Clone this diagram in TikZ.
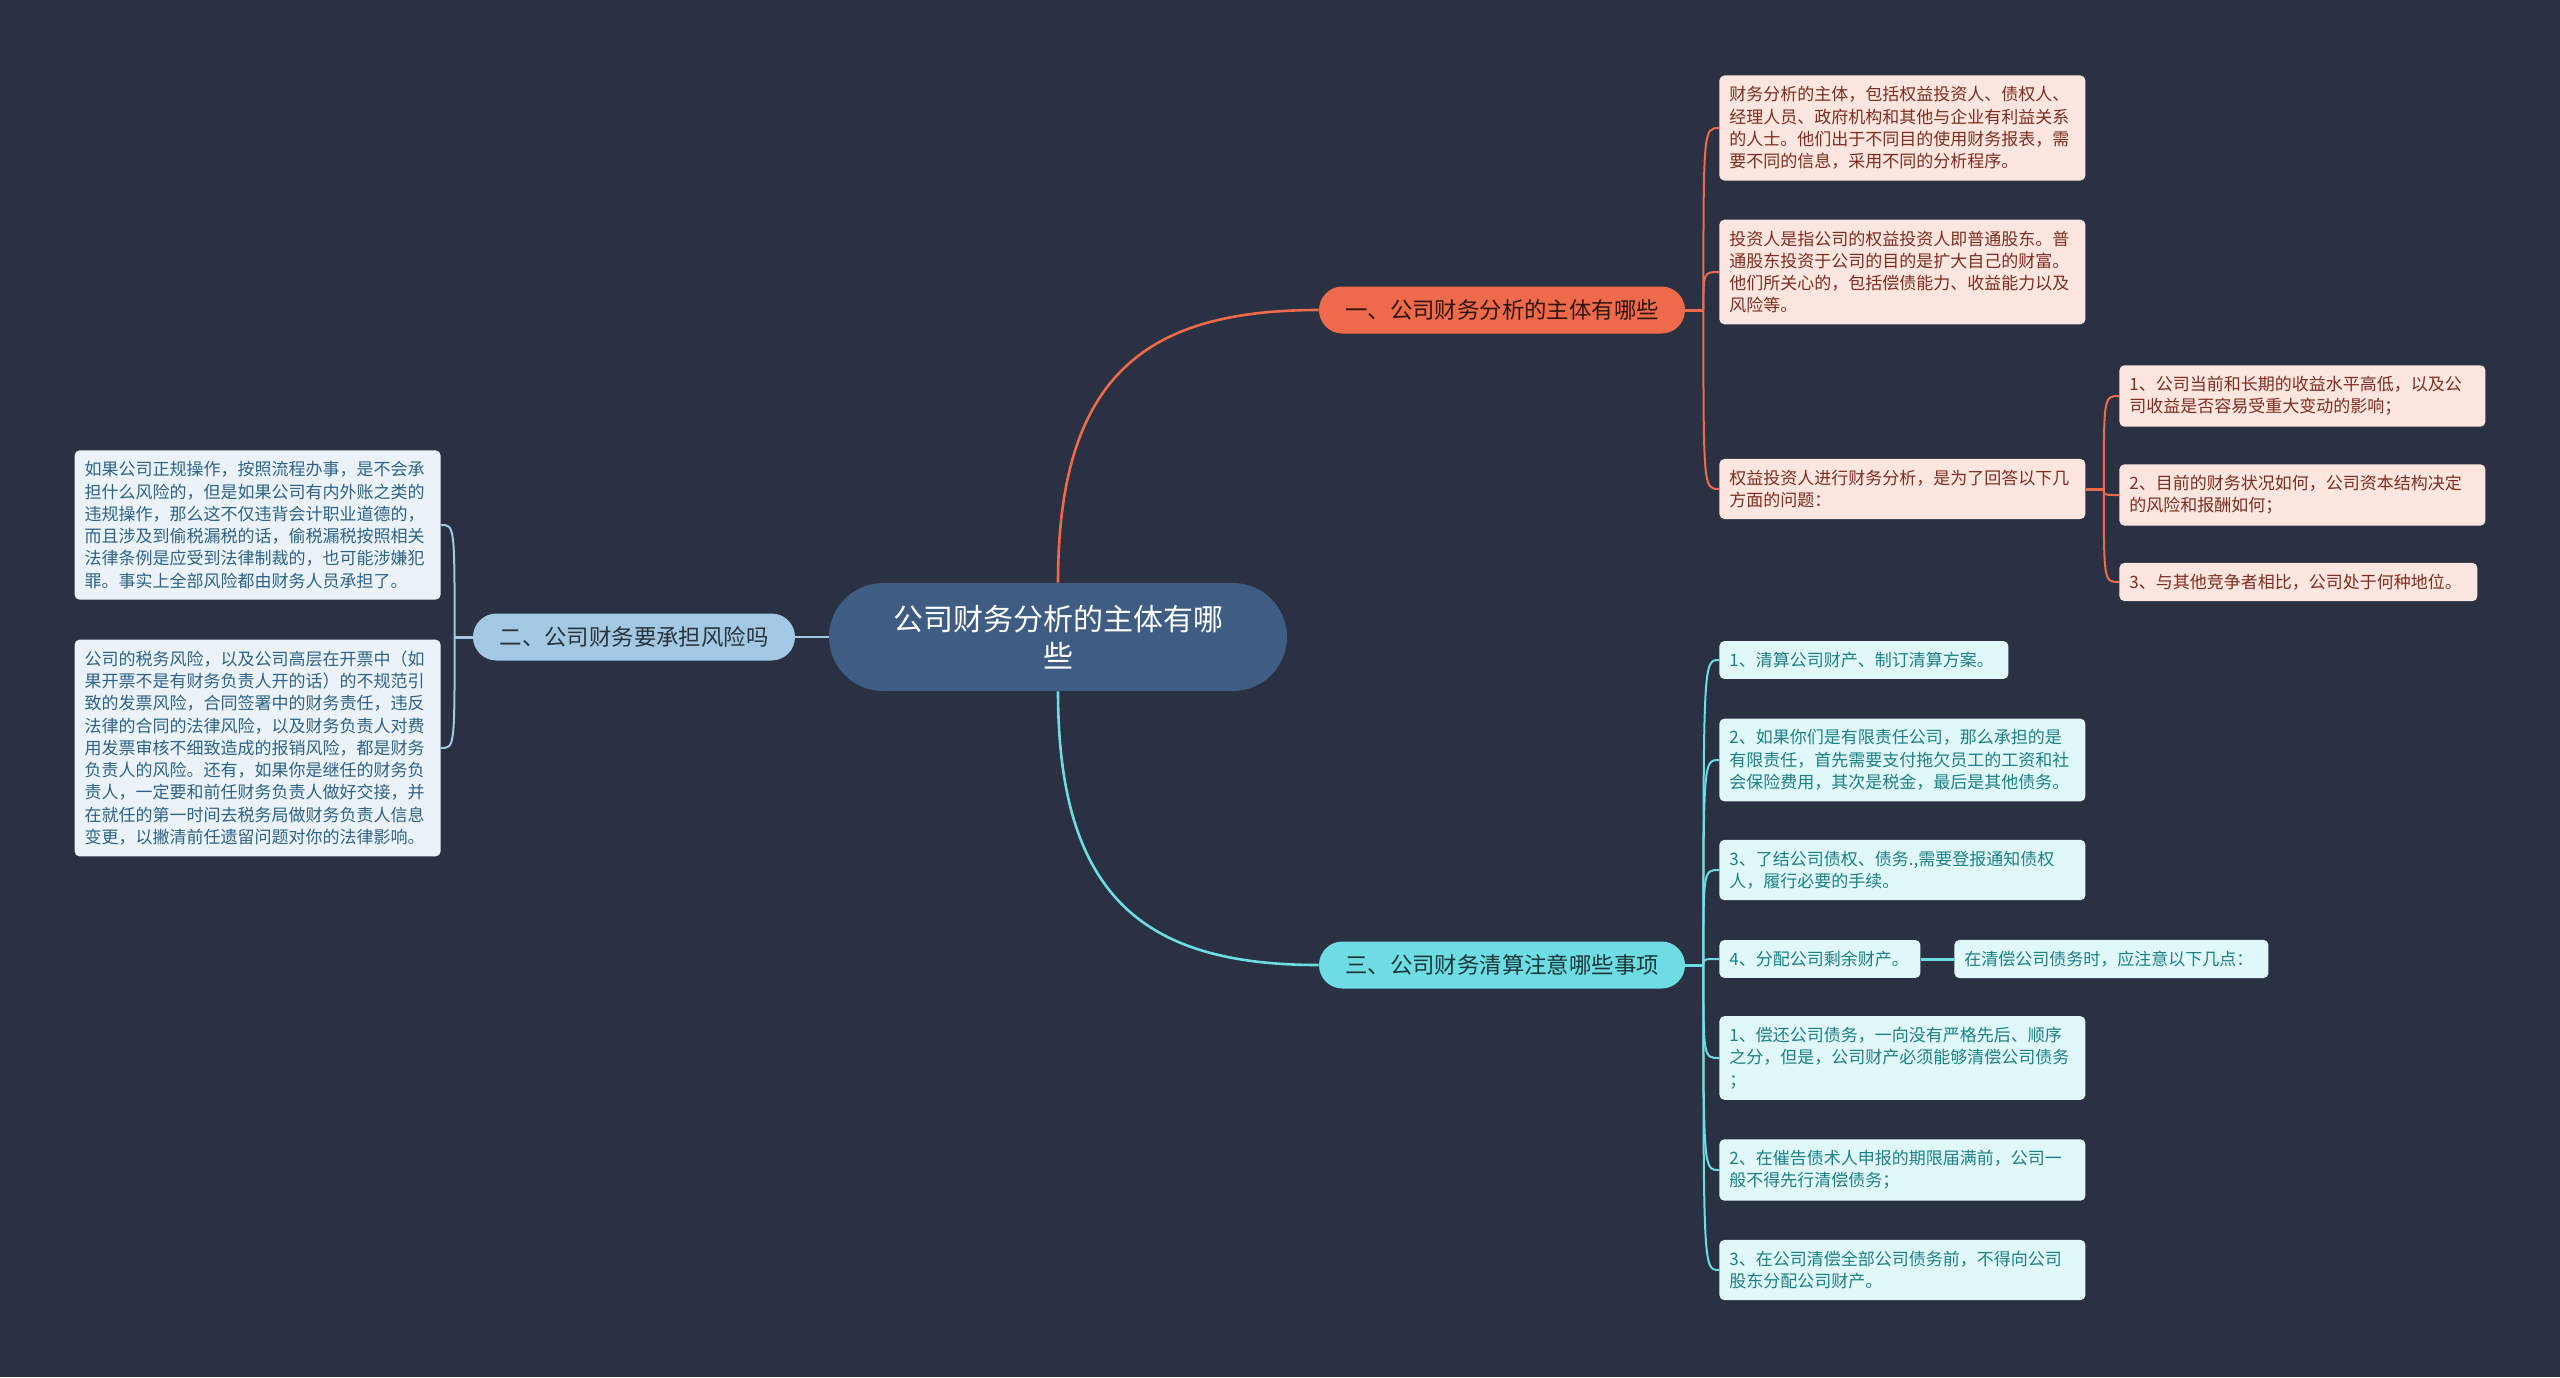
\documentclass[tikz,border=0pt]{standalone}
\usepackage{fontspec}
\setmainfont{Noto Sans CJK SC}
\usetikzlibrary{calc,positioning}

\definecolor{bgdark}{HTML}{2A3142}
\definecolor{rootfill}{HTML}{3F5C82}
\definecolor{orangemain}{HTML}{EE6A4B}
\definecolor{bluemain}{HTML}{A3C8E4}
\definecolor{cyanmain}{HTML}{6DDCE3}
\definecolor{pinkfill}{HTML}{FDE6DF}
\definecolor{pinktext}{HTML}{7E2E20}
\definecolor{greyfill}{HTML}{ECF3F8}
\definecolor{greytext}{HTML}{2D6388}
\definecolor{cyanfill}{HTML}{E1F8F9}
\definecolor{cyantext}{HTML}{1C8087}

\tikzset{
  rootnode/.style={fill=rootfill, text=white, rounded corners=27pt, minimum width=229pt,
    minimum height=54pt, align=center, font=\fontsize{15}{18.5}\selectfont},
  topic/.style={rounded corners=11.7pt, minimum height=23.5pt, align=center,
    font=\fontsize{11.2}{13}\selectfont},
  leaf/.style={anchor=west, rounded corners=2.5pt, inner xsep=5pt, inner ysep=5.5pt,
    align=left, font=\fontsize{8.5}{11.15}\selectfont},
  wideleaf/.style={leaf, text width=173pt},
  pinkleaf/.style={fill=pinkfill, text=pinktext},
  greyleaf/.style={fill=greyfill, text=greytext},
  cyanleaf/.style={fill=cyanfill, text=cyantext},
  linkA/.style={draw=orangemain, line width=1pt},
  linkB/.style={draw=bluemain, line width=1pt},
  linkC/.style={draw=cyanmain, line width=1pt}
}

\begin{document}
\begin{tikzpicture}[x=0.5pt,y=-0.5pt]
  % background
  \fill[bgdark] (0,0) rectangle (2560,1377);

  % root and main topics
  \node[rootnode] (ctr) at (1058,637) {公司财务分析的主体有哪\\些};
  \node[topic, fill=orangemain, text=black!80!orangemain, minimum width=183pt] (b1) at (1502,310) {一、公司财务分析的主体有哪些};
  \node[topic, fill=bluemain, text=black!75!bluemain, minimum width=161pt] (b2) at (634,637) {二、公司财务要承担风险吗};
  \node[topic, fill=cyanmain, text=black!75!cyanmain, minimum width=183pt] (b3) at (1502,965) {三、公司财务清算注意哪些事项};

  % first topic
  \node[wideleaf, pinkleaf] (l1a) at (1719,128) {财务分析的主体，包括权益投资人、债权人、\\经理人员、政府机构和其他与企业有利益关系\\的人士。他们出于不同目的使用财务报表，需\\要不同的信息，采用不同的分析程序。};
  \node[wideleaf, pinkleaf] (l1b) at (1719,272) {投资人是指公司的权益投资人即普通股东。普\\通股东投资于公司的目的是扩大自己的财富。\\他们所关心的，包括偿债能力、收益能力以及\\风险等。};
  \node[wideleaf, pinkleaf] (l1c) at (1719,489) {权益投资人进行财务分析，是为了回答以下几\\方面的问题：};
  \node[wideleaf, pinkleaf] (s1) at (2119,396) {1、公司当前和长期的收益水平高低，以及公\\司收益是否容易受重大变动的影响；};
  \node[wideleaf, pinkleaf] (s2) at (2119,495) {2、目前的财务状况如何，公司资本结构决定\\的风险和报酬如何；};
  \node[leaf, pinkleaf, text width=169pt] (s3) at (2119,582) {3、与其他竞争者相比，公司处于何种地位。};

  % second topic
  \node[wideleaf, greyleaf, anchor=east] (l2a) at (441,525) {如果公司正规操作，按照流程办事，是不会承\\担什么风险的，但是如果公司有内外账之类的\\违规操作，那么这不仅违背会计职业道德的，\\而且涉及到偷税漏税的话，偷税漏税按照相关\\法律条例是应受到法律制裁的，也可能涉嫌犯\\罪。事实上全部风险都由财务人员承担了。};
  \node[wideleaf, greyleaf, anchor=east] (l2b) at (441,748) {公司的税务风险，以及公司高层在开票中（如\\果开票不是有财务负责人开的话）的不规范引\\致的发票风险，合同签署中的财务责任，违反\\法律的合同的法律风险，以及财务负责人对费\\用发票审核不细致造成的报销风险，都是财务\\负责人的风险。还有，如果你是继任的财务负\\责人，一定要和前任财务负责人做好交接，并\\在就任的第一时间去税务局做财务负责人信息\\变更，以撇清前任遗留问题对你的法律影响。};

  % third topic
  \node[leaf, cyanleaf, text width=134.5pt] (c1) at (1719,660) {1、清算公司财产、制订清算方案。};
  \node[wideleaf, cyanleaf] (c2) at (1719,760) {2、如果你们是有限责任公司，那么承担的是\\有限责任，首先需要支付拖欠员工的工资和社\\会保险费用，其次是税金，最后是其他债务。};
  \node[wideleaf, cyanleaf] (c3) at (1719,870) {3、了结公司债权、债务.,需要登报通知债权\\人，履行必要的手续。};
  \node[leaf, cyanleaf, text width=90.5pt] (c4) at (1719,959) {4、分配公司剩余财产。};
  \node[leaf, cyanleaf, text width=147pt] (c4s) at (1954,959) {在清偿公司债务时，应注意以下几点：};
  \node[wideleaf, cyanleaf] (c5) at (1719,1058) {1、偿还公司债务，一向没有严格先后、顺序\\之分，但是，公司财产必须能够清偿公司债务\\；};
  \node[wideleaf, cyanleaf] (c6) at (1719,1170) {2、在催告债术人申报的期限届满前，公司一\\般不得先行清偿债务；};
  \node[wideleaf, cyanleaf] (c7) at (1719,1270) {3、在公司清偿全部公司债务前，不得向公司\\股东分配公司财产。};

  % junctions
  \coordinate (j1) at ($(b1.east)+(18,0)$);
  \coordinate (j1c) at ($(l1c.east)+(18,0)$);
  \coordinate (j2) at ($(b2.west)+(-18,0)$);
  \coordinate (j3) at ($(b3.east)+(18,0)$);

  % root links
  \draw[linkA, line width=1.3pt] (ctr.north) .. controls ($(ctr.north)+(0,-210)$) and ($(b1.west)+(-170,0)$) .. (b1.west);
  \draw[linkB, line width=1.3pt] (ctr.west) -- (b2.east);
  \draw[linkC, line width=1.3pt] (ctr.south) .. controls ($(ctr.south)+(0,210)$) and ($(b3.west)+(-170,0)$) .. (b3.west);

  % branch links
  \draw[linkA, line width=1.5pt] (b1.east) -- (j1);
  \foreach \n in {l1a,l1b,l1c}
    \draw[linkA] (j1) .. controls (j1|-\n.west) .. (\n.west);
  \draw[linkA, line width=1.5pt] (l1c.east) -- (j1c);
  \foreach \n in {s1,s2,s3}
    \draw[linkA] (j1c) .. controls (j1c|-\n.west) .. (\n.west);

  \draw[linkB, line width=1.5pt] (b2.west) -- (j2);
  \foreach \n in {l2a,l2b}
    \draw[linkB] (j2) .. controls (j2|-\n.east) .. (\n.east);

  \draw[linkC, line width=1.5pt] (b3.east) -- (j3);
  \foreach \n in {c1,c2,c3,c4,c5,c6,c7}
    \draw[linkC] (j3) .. controls (j3|-\n.west) .. (\n.west);
  \draw[linkC, line width=1.5pt] (c4.east) -- (c4s.west);
\end{tikzpicture}
\end{document}
